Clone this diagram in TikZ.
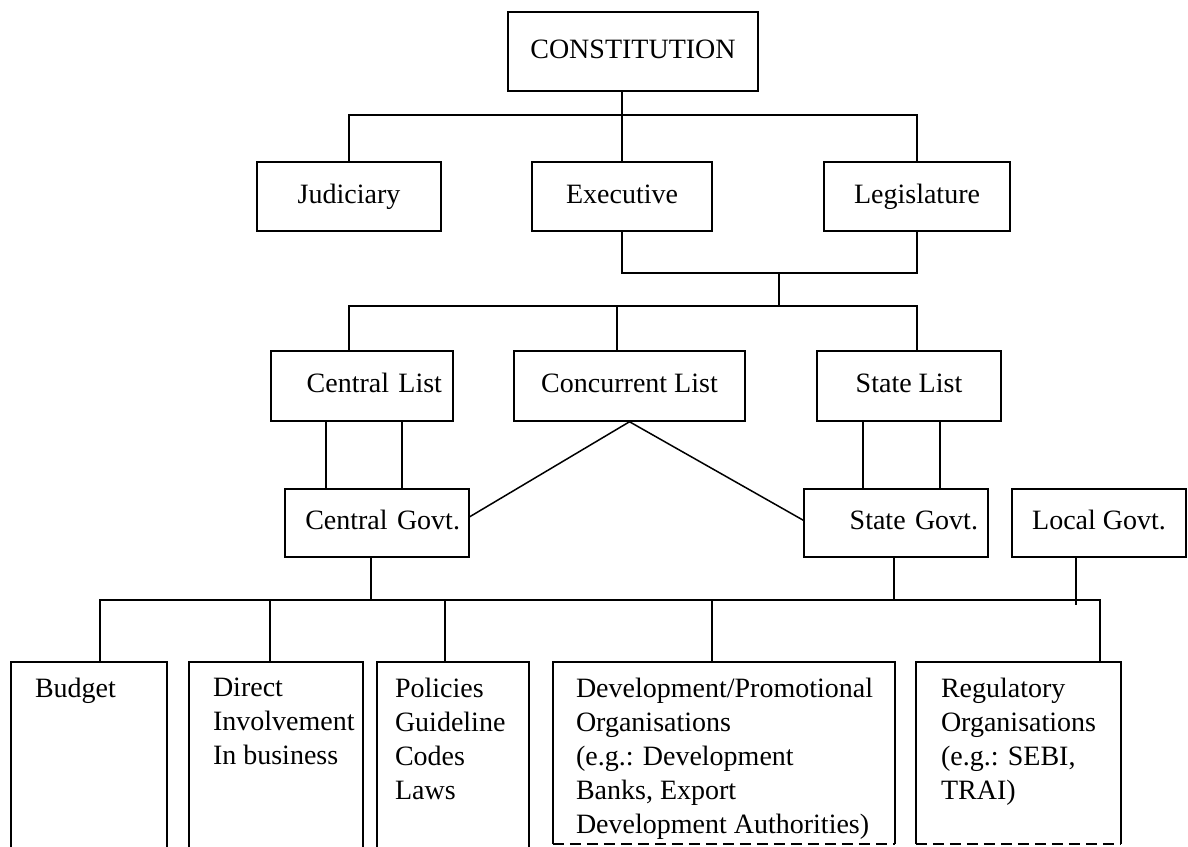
\documentclass[tikz,border=0pt]{standalone}
\usepackage{fontspec}
\setmainfont{Liberation Serif}
\usetikzlibrary{calc}
\begin{document}
\begin{tikzpicture}[x=1pt,y=-1pt,
  every node/.style={font=\fontsize{28}{34}\selectfont},
  box/.style={draw, line width=1.5pt, inner sep=0pt, rectangle, minimum height=69pt, text height=19pt, text depth=6pt},
  openbox/.style={rectangle, inner sep=0pt},
  wire/.style={line width=1.5pt},
  txt/.style={anchor=north west, inner sep=0pt, align=left}]
\useasboundingbox (0,0) rectangle (1188,846);
\clip (0,0) rectangle (1188,846);
\fill[white] (0,0) rectangle (1188,846);

% top
\node[box, minimum width=250pt, minimum height=79pt] (const) at (633,51.5) {CONSTITUTION};
\node[box, minimum width=184pt] (jud) at (349,196.5) {Judiciary};
\node[box, minimum width=180pt] (exec) at (622,196.5) {Executive};
\node[box, minimum width=186pt] (leg) at (917,196.5) {Legislature};

% lists
\node[box, inner xsep=11pt, text width=160pt, align=right, minimum height=70pt] (cl) at (362,386) {Central List};
\node[box, minimum width=231pt, minimum height=70pt] (con) at (629.5,386) {Concurrent List};
\node[box, minimum width=184pt, minimum height=70pt] (sl) at (909,386) {State List};

% governments
\node[box, inner xsep=9pt, text width=166pt, align=right, minimum height=68pt] (cgov) at (377,523) {Central Govt.};
\node[box, inner xsep=10pt, text width=164pt, align=right, minimum height=68pt] (sgov) at (896,523) {State Govt.};
\node[box, minimum width=174pt, minimum height=68pt] (lgov) at (1099,523) {Local Govt.};

% bottom boxes
\node[openbox, minimum width=156pt, minimum height=208pt] (bud) at (89,766) {};
\node[openbox, minimum width=174pt, minimum height=208pt] (dir) at (276,766) {};
\node[openbox, minimum width=152pt, minimum height=208pt] (pol) at (453,766) {};
\node[openbox, minimum width=342pt, minimum height=182pt] (dev) at (724,753) {};
\node[openbox, minimum width=205pt, minimum height=182pt] (reg) at (1018.5,753) {};

\foreach \b in {bud,dir,pol,dev,reg}
  \draw[wire] (\b.south west) -- (\b.north west) -- (\b.north east) -- (\b.south east);
\draw[wire, dash pattern=on 11pt off 6pt] (dev.south west) -- (dev.south east);
\draw[wire, dash pattern=on 11pt off 6pt] (reg.south west) -- (reg.south east);

\node[txt] (budt) at ($(bud.north west)+(24,16)$) {Budget};
\node[txt] (dirt) at ($(dir.north west)+(24,16)$) {Direct\\Involvement\\In business};
\node[txt] (polt) at ($(pol.north west)+(18,16)$) {Policies\\Guideline\\Codes\\Laws};
\node[txt] (devt) at ($(dev.north west)+(23,16)$) {Development/Promotional\\Organisations\\(e.g.: Development\\Banks, Export\\Development Authorities)};
\node[txt] (regt) at ($(reg.north west)+(25,16)$) {Regulatory\\Organisations\\(e.g.: SEBI,\\TRAI)};

% level coordinates
\coordinate (y1) at (0,115);
\coordinate (y2) at (0,273);
\coordinate (k2) at (779,273);
\coordinate (k3a) at (349,306);
\coordinate (k3b) at (617,306);
\coordinate (k3c) at (917,306);
\coordinate (v1) at (326,0);
\coordinate (v2) at (402,0);
\coordinate (v3) at (863,0);
\coordinate (v4) at (940,0);
\coordinate (d1) at (100,600);
\coordinate (d2) at (270,600);
\coordinate (d3) at (445,600);
\coordinate (d4) at (712,600);
\coordinate (d5) at (1100,600);
\coordinate (u1) at (371,600);
\coordinate (u2) at (894,600);
\coordinate (u3) at (1076,605);

% connectors
\draw[wire] (exec.north |- const.south) -- (exec.north);
\draw[wire] (jud.north) -- (jud.north |- y1) -- (leg.north |- y1) -- (leg.north);
\draw[wire] (exec.south) -- (exec.south |- y2) -- (leg.south |- y2) -- (leg.south);
\draw[wire] (k2) -- (k2 |- k3a);
\draw[wire] (k3a |- cl.north) -- (k3a) -- (k3c) -- (k3c |- sl.north);
\draw[wire] (k3b) -- (k3b |- con.north);
\draw[wire] (v1 |- cl.south) -- (v1 |- cgov.north);
\draw[wire] (v2 |- cl.south) -- (v2 |- cgov.north);
\draw[wire] (v3 |- sl.south) -- (v3 |- sgov.north);
\draw[wire] (v4 |- sl.south) -- (v4 |- sgov.north);
\draw[wire] (con.south) -- ($(cgov.north east)!0.41!(cgov.south east)$);
\draw[wire] (con.south) -- ($(sgov.north west)!0.46!(sgov.south west)$);

\draw[wire] (d1 |- bud.north) -- (d1) -- (d5) -- (d5 |- reg.north);
\draw[wire] (d2) -- (d2 |- dir.north);
\draw[wire] (d3) -- (d3 |- pol.north);
\draw[wire] (d4) -- (d4 |- dev.north);
\draw[wire] (u1 |- cgov.south) -- (u1);
\draw[wire] (u2 |- sgov.south) -- (u2);
\draw[wire] (u3 |- lgov.south) -- (u3);
\end{tikzpicture}
\end{document}
